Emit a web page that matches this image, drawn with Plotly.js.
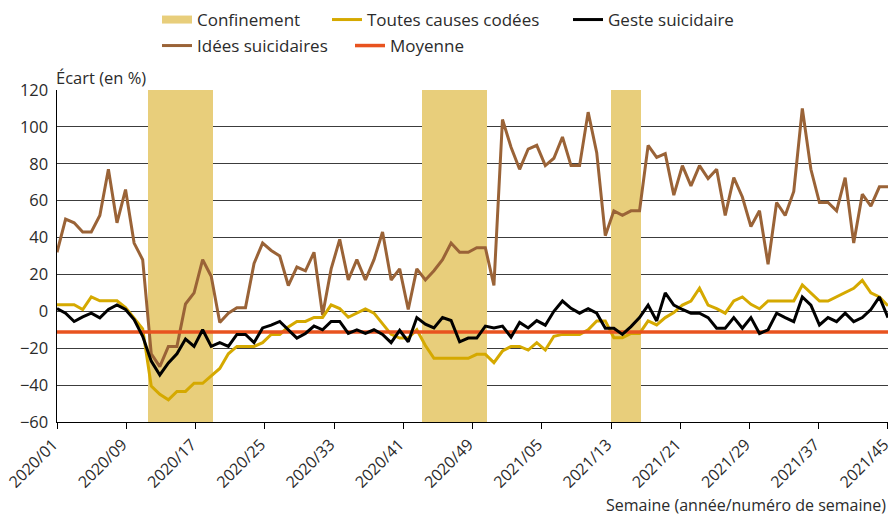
<!DOCTYPE html>
<html><head><meta charset="utf-8">
<script src="https://cdn.plot.ly/plotly-3.0.1.min.js"></script>
<style>html,body{margin:0;padding:0;background:#fff}#chart{width:892px;height:516px}</style>
</head><body><div id="chart"></div>
<script>
const tickLabels = ['2020/01','2020/09','2020/17','2020/25','2020/33','2020/41','2020/49','2021/05','2021/13','2021/21','2021/29','2021/37','2021/45'];

const ideesSuicidaires = [32, 50, 48, 43, 43, 52, 77, 48, 66, 37,
 28, -23, -30, -19, -19, 4, 10, 28, 19, -6,
 -1, 2, 2, 26, 37, 33, 30, 14, 24, 22,
 32, -2, 23, 39, 17, 28, 17, 28, 43, 17,
 23, 1, 23, 17, 22, 28, 37, 32, 32, 34.5,
 34.5, 14, 104, 89, 77, 88, 90, 79, 83, 94.5,
 79, 79, 108, 86, 41, 54.5, 52, 54.5, 54.5, 90,
 83.5, 85.5, 63, 79, 68, 79, 72, 77, 52, 72.5,
 62, 46, 54.5, 25.5, 59, 52, 65, 110, 77, 59,
 59, 54.5, 72.5, 37, 63.5, 57, 67.5, 67.5];

const toutesCauses = [3.6, 3.6, 3.6, 1, 7.8, 5.7, 5.7, 5.7, 2, -3.5,
 -9.5, -40.5, -45, -48, -43.4, -43.4, -39, -39, -35, -31,
 -23, -19, -19, -19, -17, -12.5, -12.5, -8.5, -5.5, -5.5,
 -3.3, -3.3, 3.5, 1.5, -3.2, -1, 1.3, -1, -7, -12.5,
 -14.5, -14.5, -10, -18.5, -25.5, -25.5, -25.5, -25.5, -25.5, -23.3,
 -23.3, -27.8, -21.5, -19, -19, -21, -17, -21, -13.5, -12.5,
 -12.5, -12.5, -10, -5.2, -5.2, -14.3, -14.3, -12, -12, -5.2,
 -7.4, -3.4, -0.7, 3.4, 5.6, 12.5, 3.4, 1.5, -1, 5.6,
 7.8, 3.8, 1.4, 5.6, 5.6, 5.6, 5.6, 14.3, 10, 5.6,
 5.6, 7.8, 10, 12.5, 16.8, 10, 7.8, 3];

const gesteSuicidaire = [1.5, -1, -5.5, -3, -1, -3.5, 1, 3.5, 1, -4.5,
 -13.5, -27, -34.5, -28, -23, -15, -19, -10, -19, -17,
 -19, -12.5, -12.5, -17, -9, -7.5, -5.5, -10, -14.5, -12,
 -8, -10, -5.5, -5.5, -12, -10, -12, -10, -12.5, -17,
 -10.3, -16.5, -3.4, -7, -9, -3.4, -5, -16.5, -14.5, -14.5,
 -8, -9, -8, -14, -6, -9, -5, -7.5, 0, 5.6,
 1.6, -1, 1.4, -1, -9.2, -9.2, -12.5, -8.3, -3.4, 3.4,
 -5.2, 10, 3.4, 1, -1, -1, -3.4, -9.2, -9.2, -3.4,
 -9.2, -3.4, -12, -10, -1, -3.4, -5.6, 7.8, 3.4, -7.4,
 -3.4, -5.6, -1, -5.6, -3.4, 1, 7.8, -3.4];

const moyenne = -11.2;

// confinement periods, in week-index units (start / end)
const confStart = [10.66, 42.64, 64.7];
const confEnd = [18.21, 50.23, 68.17];

const yMin = -60, yMax = 120;

const weeks = ideesSuicidaires.map((_, i) => i);
const lastWeek = weeks.length - 1;
const tickPos = tickLabels.map((_, k) => k * lastWeek / (tickLabels.length - 1));

const FONT = 'Open Sans, sans-serif';
const TXT = '#2b2b2b';
const C_CONF = '#E8CE7B', C_YEL = '#D5A900', C_BRN = '#9A6337', C_BLK = '#000000', C_ORG = '#E8531F';

const traces = [
  {type: 'bar', x: confStart.map((s, i) => (s + confEnd[i]) / 2), width: confStart.map((s, i) => confEnd[i] - s),
   y: confStart.map(() => yMax - yMin), base: yMin, marker: {color: C_CONF, line: {width: 0}},
   showlegend: false, hoverinfo: 'skip'},
  {type: 'scatter', mode: 'lines', x: [null], y: [null], name: 'Confinement',
   line: {color: C_CONF, width: 8}, legend: 'legend'},
  {type: 'scatter', mode: 'lines', x: weeks, y: ideesSuicidaires, name: 'Idées suicidaires',
   line: {color: C_BRN, width: 3}, legend: 'legend4'},
  {type: 'scatter', mode: 'lines', x: weeks, y: toutesCauses, name: 'Toutes causes codées',
   line: {color: C_YEL, width: 3}, legend: 'legend2'},
  {type: 'scatter', mode: 'lines', x: [weeks[0], weeks[lastWeek]], y: [moyenne, moyenne], name: 'Moyenne',
   line: {color: C_ORG, width: 3.5}, legend: 'legend5'},
  {type: 'scatter', mode: 'lines', x: weeks, y: gesteSuicidaire, name: 'Geste suicidaire',
   line: {color: C_BLK, width: 3}, legend: 'legend3'}
];

function leg(px, py) {
  return {xref: 'container', yref: 'container', x: px / 892, y: 1 - py / 516,
    xanchor: 'left', yanchor: 'middle', orientation: 'h', bgcolor: 'rgba(0,0,0,0)',
    borderwidth: 0, font: {family: FONT, size: 17, color: TXT}};
}

const layout = {
  width: 892, height: 516,
  margin: {l: 57, r: 4, t: 90, b: 94, pad: 0},
  paper_bgcolor: '#fff', plot_bgcolor: '#fff',
  font: {family: FONT, color: TXT},
  bargap: 0,
  legend: leg(157, 20),
  legend2: leg(327, 20),
  legend3: leg(568, 20),
  legend4: leg(157, 46),
  legend5: leg(350, 46),
  xaxis: {
    range: [-0.001, lastWeek + 0.001], tickmode: 'array', tickvals: tickPos, ticktext: tickLabels,
    tickangle: -45, ticks: 'outside', ticklen: 6, tickcolor: '#000', tickwidth: 1,
    showline: true, linecolor: '#000', linewidth: 1, showgrid: false, zeroline: false,
    ticklabeloverflow: 'allow', ticklabelshift: -4,
    tickfont: {family: FONT, size: 16, color: TXT}, fixedrange: true, automargin: false
  },
  yaxis: {
    range: [yMin, yMax], dtick: 20, tick0: 0, ticks: '', showline: true, linecolor: '#000', linewidth: 1.5,
    showgrid: true, gridcolor: '#3c3c3c', gridwidth: 1, zeroline: false,
    tickfont: {family: FONT, size: 16.5, color: TXT}, ticklabelstandoff: 4, fixedrange: true
  },
  annotations: [
    {xref: 'paper', yref: 'paper', x: 0, y: 1, xanchor: 'left', yanchor: 'middle', xshift: -3, yshift: 13,
     text: 'Écart (en %)', showarrow: false, font: {family: FONT, size: 16.5, color: TXT}},
    {xref: 'paper', yref: 'paper', x: 1, y: 0, xanchor: 'right', yanchor: 'middle', yshift: -83,
     text: 'Semaine (année/numéro de semaine)', showarrow: false, font: {family: FONT, size: 16, color: TXT}}
  ],
  showlegend: true
};

Plotly.newPlot('chart', traces, layout, {displayModeBar: false, staticPlot: true});
</script></body></html>
